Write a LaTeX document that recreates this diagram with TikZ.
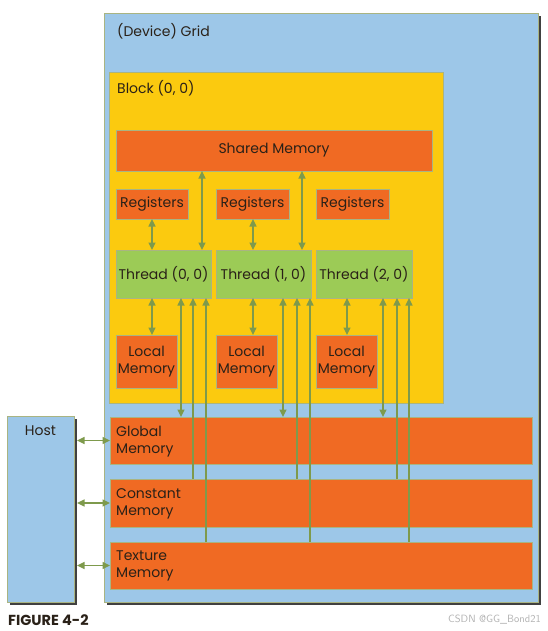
\documentclass[tikz,border=0pt]{standalone}
\usepackage{fontspec}
\setmainfont{Poppins}
\usetikzlibrary{arrows.meta,calc}
\definecolor{gridblue}{HTML}{9DC7E8}
\definecolor{blockyellow}{HTML}{FBCA0F}
\definecolor{memorange}{HTML}{F06A23}
\definecolor{threadgreen}{HTML}{9CCB56}
\definecolor{arrowgreen}{HTML}{7E9A4C}
\definecolor{edgecol}{HTML}{A9B482}
\definecolor{shadowgray}{HTML}{404040}
\definecolor{txt}{HTML}{2A2118}
\begin{document}
\begin{tikzpicture}[x=1pt,y=-1pt,
  box/.style={draw=edgecol, line width=0.8pt, anchor=north west, inner sep=0pt, outer sep=0pt},
  mem/.style={box, fill=memorange},
  thr/.style={box, fill=threadgreen},
  lbl/.style={text=txt, font=\fontsize{14}{17}\selectfont, inner sep=0pt},
  arr/.style={arrowgreen, line width=1.5pt, -{Triangle[length=7.5pt,width=7pt]}},
  dbl/.style={arrowgreen, line width=1.5pt, {Triangle[length=7.5pt,width=7pt]}-{Triangle[length=7.5pt,width=7pt]}}]
\useasboundingbox[fill=white] (0,0) rectangle (548,631);
% grid
\fill[shadowgray] (107,16) rectangle (541,605);
\node[box, fill=gridblue, minimum width=434pt, minimum height=589pt] (grid) at (104,13) {};
\node[lbl, anchor=west] (gridlbl) at ($(grid.north west)+(13,18)$) {(Device) Grid};
% block
\node[box, fill=blockyellow, minimum width=334pt, minimum height=331pt] (block) at (109,72) {};
\node[lbl, anchor=west] (blocklbl) at ($(block.north west)+(8,16)$) {Block (0, 0)};
% shared memory
\node[mem, minimum width=316pt, minimum height=41pt] (sm) at (116,130) {};
\node[lbl] at (sm.center) {Shared Memory};
% registers
\node[mem, minimum width=72pt, minimum height=30pt] (r0) at (116,189) {};
\node[mem, minimum width=73pt, minimum height=30pt] (r1) at (216,189) {};
\node[mem, minimum width=73pt, minimum height=30pt] (r2) at (316,189) {};
\foreach \n in {r0,r1,r2} \node[lbl] at (\n.center) {Registers};
% threads
\node[thr, minimum width=95pt, minimum height=48pt] (t0) at (116,250) {};
\node[thr, minimum width=95pt, minimum height=48pt] (t1) at (216,250) {};
\node[thr, minimum width=96pt, minimum height=48pt] (t2) at (316,250) {};
\node[lbl] at (t0.center) {Thread (0, 0)};
\node[lbl] at (t1.center) {Thread (1, 0)};
\node[lbl] at (t2.center) {Thread (2, 0)};
% local memories
\node[mem, minimum width=61pt, minimum height=53pt] (l0) at (116,335) {};
\node[mem, minimum width=61pt, minimum height=53pt] (l1) at (216,335) {};
\node[mem, minimum width=61pt, minimum height=53pt] (l2) at (316,335) {};
\foreach \n in {l0,l1,l2} \node[lbl, align=center, font=\fontsize{14}{17}\selectfont] at (\n.center) {Local\\Memory};
% global / constant / texture
\node[mem, minimum width=422pt, minimum height=47pt] (gm) at (110,417) {};
\node[mem, minimum width=422pt, minimum height=48pt] (cm) at (110,479) {};
\node[mem, minimum width=422pt, minimum height=47pt] (tm) at (110,542) {};
\node[lbl, align=left, anchor=north west, font=\fontsize{14}{17}\selectfont] at ($(gm.north west)+(6,9)$) {Global\\Memory};
\node[lbl, align=left, anchor=north west, font=\fontsize{14}{17}\selectfont] at ($(cm.north west)+(6,9)$) {Constant\\Memory};
\node[lbl, align=left, anchor=north west, font=\fontsize{14}{17}\selectfont] at ($(tm.north west)+(6,9)$) {Texture\\Memory};
% host
\fill[shadowgray] (10,419) rectangle (77,605);
\node[box, fill=gridblue, minimum width=67pt, minimum height=186pt] (host) at (7,416) {};
\node[lbl] at ($(host.north)+(0,15)$) {Host};
% register <-> thread
\draw[dbl] ($(r0.south west)+(36,0)$) coordinate (a) -- (a |- t0.north);
\draw[dbl] ($(r1.south west)+(37,0)$) coordinate (a) -- (a |- t1.north);
% shared <-> thread
\draw[dbl] ($(t0.north west)+(86,0)$) coordinate (a) -- (a |- sm.south);
\draw[dbl] ($(t1.north west)+(86,0)$) coordinate (a) -- (a |- sm.south);
% thread <-> local
\draw[dbl] ($(t0.south west)+(36,0)$) coordinate (a) -- (a |- l0.north);
\draw[dbl] ($(t1.south west)+(37,0)$) coordinate (a) -- (a |- l1.north);
\draw[dbl] ($(t2.south west)+(31,0)$) coordinate (a) -- (a |- l2.north);
% thread <-> global
\draw[dbl] ($(t0.south west)+(65,0)$) coordinate (a) -- (a |- gm.north);
\draw[dbl] ($(t1.south west)+(67,0)$) coordinate (a) -- (a |- gm.north);
\draw[dbl] ($(t2.south west)+(67,0)$) coordinate (a) -- (a |- gm.north);
% constant -> thread
\path ($(t0.south west)+(77,0)$) coordinate (c0) ($(t1.south west)+(81,0)$) coordinate (c1) ($(t2.south west)+(81,0)$) coordinate (c2);
\draw[arr] (c0 |- cm.north) -- (c0);
\draw[arr] (c1 |- cm.north) -- (c1);
\draw[arr] (c2 |- cm.north) -- (c2);
% texture -> thread
\path ($(t0.south west)+(90,0)$) coordinate (x0) ($(t1.south west)+(94,0)$) coordinate (x1) ($(t2.south west)+(93,0)$) coordinate (x2);
\draw[arr] (x0 |- tm.north) -- (x0);
\draw[arr] (x1 |- tm.north) -- (x1);
\draw[arr] (x2 |- tm.north) -- (x2);
% host <-> memories
\draw[dbl, shorten <=3pt] (host.east |- gm.west) -- (gm.west);
\draw[dbl, shorten <=3pt] (host.east |- cm.west) -- (cm.west);
\draw[dbl, shorten <=3pt] (host.east |- tm.west) -- (tm.west);
% captions
\node[anchor=west, inner sep=0pt, text=txt, font=\bfseries\fontsize{14.5}{16}\selectfont] (fig) at (8,620) {FIGURE 4-2};
\node[anchor=east, inner sep=0pt, text=black!30, font=\sffamily\fontsize{10.5}{12}\selectfont] (wm) at (541,620) {CSDN @GG\_Bond21};
\end{tikzpicture}
\end{document}
